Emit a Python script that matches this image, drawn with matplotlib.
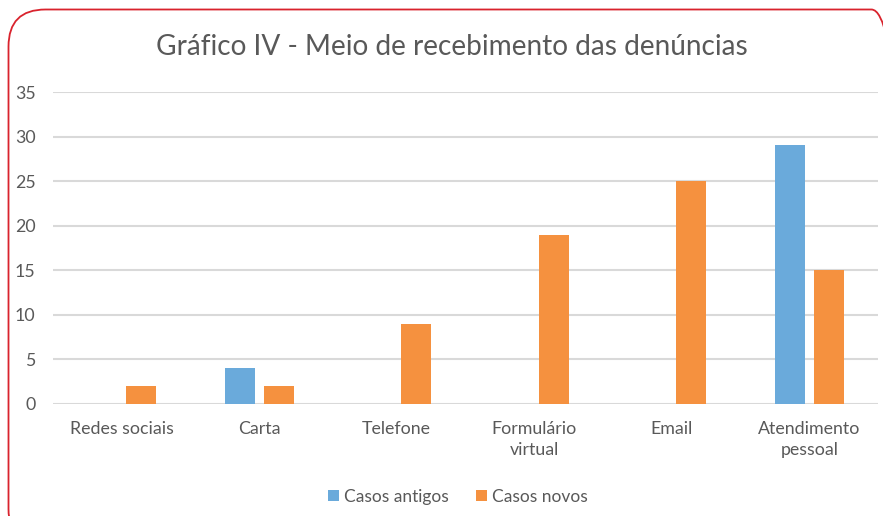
import matplotlib.pyplot as plt
from matplotlib.patches import FancyBboxPatch
import numpy as np

# Dados
categorias = ['Redes sociais', 'Carta', 'Telefone', 'Formulário\nvirtual', 'Email', 'Atendimento\npessoal']
casos_antigos = [0, 4, 0, 0, 0, 29]
casos_novos = [2, 2, 9, 19, 25, 15]
y_ticks = [0, 5, 10, 15, 20, 25, 30, 35]

plt.rcParams['font.family'] = ['Lato', 'DejaVu Sans']
cinza = '#595959'

fig = plt.figure(figsize=(8.83, 5.16), dpi=100)
ax = fig.add_axes([53 / 883, 112 / 516, 825 / 883, 312 / 516])

x = np.arange(len(categorias))
largura = 0.22
ax.bar(x - 0.142, casos_antigos, largura, color='#6AAADB', label='Casos antigos', zorder=3)
ax.bar(x + 0.142, casos_novos, largura, color='#F5913F', label='Casos novos', zorder=3)

ax.set_xlim(-0.5, len(categorias) - 0.5)
ax.set_ylim(0, 35)
ax.set_yticks(y_ticks)
ax.set_xticks(x)
ax.set_xticklabels(categorias, fontsize=12.8, color=cinza, linespacing=1.35)
ax.tick_params(axis='y', labelsize=12.8, labelcolor=cinza, length=0, pad=12.5)
ax.tick_params(axis='x', length=0, pad=12.5)
ax.grid(axis='y', color='#D9D9D9', linewidth=1.5, zorder=0)
for s in ax.spines.values():
    s.set_visible(False)

fig.text(0.512, 1 - 47 / 516, 'Gráfico IV - Meio de recebimento das denúncias',
         ha='center', va='center', fontsize=20.2, color=cinza)

ax.legend(loc='center', bbox_to_anchor=(458 / 883, 1 - 497 / 516), bbox_transform=fig.transFigure,
          ncol=2, frameon=False, fontsize=12.5, labelcolor=cinza,
          handlelength=0.6, handleheight=0.6, handletextpad=0.3, columnspacing=1.6)

# Borda arredondada
borda = FancyBboxPatch((8.5 / 100, -0.3), 9.0, 5.16 - 9.5 / 100 + 0.3,
                       boxstyle='round,pad=0,rounding_size=0.37',
                       transform=fig.dpi_scale_trans, fill=False,
                       edgecolor='#D9232D', linewidth=1.3, clip_on=False)
fig.patches.append(borda)

fig.savefig('out.png', dpi=100)
